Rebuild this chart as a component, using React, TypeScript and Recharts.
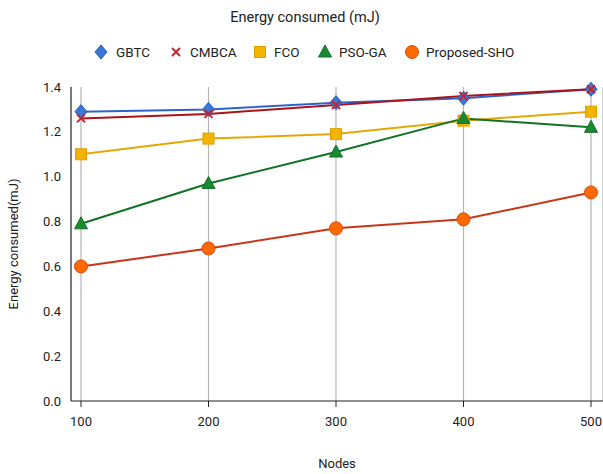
import React from "react";
import { LineChart, Line, XAxis, YAxis, CartesianGrid, Label } from "recharts";

const nodes = ["100", "200", "300", "400", "500"];
const gbtc = [1.29, 1.3, 1.33, 1.35, 1.39];
const cmbca = [1.26, 1.28, 1.32, 1.36, 1.39];
const fco = [1.1, 1.17, 1.19, 1.25, 1.29];
const psoGa = [0.79, 0.97, 1.11, 1.26, 1.22];
const proposedSho = [0.6, 0.68, 0.77, 0.81, 0.93];
const yTicks = [0, 0.2, 0.4, 0.6, 0.8, 1.0, 1.2, 1.4];

const data = nodes.map((n, i) => ({
  nodes: n,
  GBTC: gbtc[i],
  CMBCA: cmbca[i],
  FCO: fco[i],
  "PSO-GA": psoGa[i],
  "Proposed-SHO": proposedSho[i],
}));

const FONT = "Roboto, 'Liberation Sans', Arial, sans-serif";

// marker shapes
const Diamond = ({ cx, cy }: any) => (
  <path
    d={`M${cx},${cy - 7} L${cx + 6},${cy} L${cx},${cy + 7} L${cx - 6},${cy} Z`}
    fill="#3a78d8"
    stroke="#2458b8"
    strokeWidth={1}
  />
);
const Cross = ({ cx, cy }: any) => (
  <path
    d={`M${cx - 4},${cy - 4} L${cx + 4},${cy + 4} M${cx + 4},${cy - 4} L${cx - 4},${cy + 4}`}
    stroke="#c0262b"
    strokeWidth={2}
  />
);
const Square = ({ cx, cy }: any) => (
  <rect x={cx - 5.5} y={cy - 5.5} width={11} height={11} fill="#f2b400" stroke="#e0a000" />
);
const Triangle = ({ cx, cy }: any) => (
  <path
    d={`M${cx},${cy - 7} L${cx + 6.5},${cy + 5} L${cx - 6.5},${cy + 5} Z`}
    fill="#1a8a32"
    stroke="#137026"
  />
);
const Circle = ({ cx, cy }: any) => (
  <circle cx={cx} cy={cy} r={6.5} fill="#ff6a00" stroke="#d9480f" strokeWidth={1} />
);

const series = [
  { key: "GBTC", color: "#2e62cc", Shape: Diamond },
  { key: "CMBCA", color: "#a8141a", Shape: Cross },
  { key: "FCO", color: "#e3a808", Shape: Square },
  { key: "PSO-GA", color: "#117324", Shape: Triangle },
  { key: "Proposed-SHO", color: "#c8361a", Shape: Circle },
];

const legendPos = [
  { icon: 101, text: 116 },
  { icon: 176, text: 190 },
  { icon: 260, text: 274 },
  { icon: 325, text: 339 },
  { icon: 412, text: 426 },
];

export default function App() {
  return (
    <div style={{ position: "absolute", left: 0, top: 0, width: 603, height: 474, background: "#fff", fontFamily: FONT }}>
      <svg width={603} height={80} style={{ position: "absolute", left: 0, top: 0 }}>
        <text x={305} y={22} textAnchor="middle" fontSize={14.5} fill="#222" fontFamily={FONT}>
          Energy consumed (mJ)
        </text>
        {series.map((s, i) => {
          const Shape = s.Shape;
          return (
            <g key={s.key}>
              <Shape cx={legendPos[i].icon} cy={52} />
              <text x={legendPos[i].text} y={57} fontSize={13.5} fill="#222" fontFamily={FONT}>
                {s.key}
              </text>
            </g>
          );
        })}
      </svg>
      <LineChart
        width={603}
        height={474}
        data={data}
        margin={{ top: 87, right: 0, bottom: 0, left: 0 }}
        style={{ position: "absolute", left: 0, top: 0 }}
      >
        <CartesianGrid horizontal={false} stroke="#b5b5b5" strokeWidth={1.2} />
        <XAxis
          dataKey="nodes"
          padding={{ left: 10, right: 12 }}
          height={73}
          stroke="#222"
          tickSize={6}
          tickMargin={10}
          tick={{ fontSize: 13, fill: "#222", fontFamily: FONT }}
        >
          <Label value="Nodes" position="insideBottom" offset={6} style={{ fontSize: 13, fill: "#222", fontFamily: FONT }} />
        </XAxis>
        <YAxis
          domain={[0, 1.4]}
          ticks={yTicks}
          width={71}
          stroke="#222"
          tickLine={false}
          tickMargin={4}
          tickFormatter={(v: number) => v.toFixed(1)}
          tick={{ fontSize: 13, fill: "#222", fontFamily: FONT }}
        >
          <Label
            value="Energy consumed(mJ)"
            angle={-90}
            position="insideLeft"
            offset={13}
            style={{ textAnchor: "middle", fontSize: 13, fill: "#222", fontFamily: FONT }}
          />
        </YAxis>
        {series.map((s) => {
          const Shape = s.Shape;
          return (
            <Line
              key={s.key}
              dataKey={s.key}
              stroke={s.color}
              strokeWidth={2}
              isAnimationActive={false}
              dot={(p: any) => <Shape key={p.index} cx={p.cx} cy={p.cy} />}
              activeDot={false}
            />
          );
        })}
      </LineChart>
    </div>
  );
}
